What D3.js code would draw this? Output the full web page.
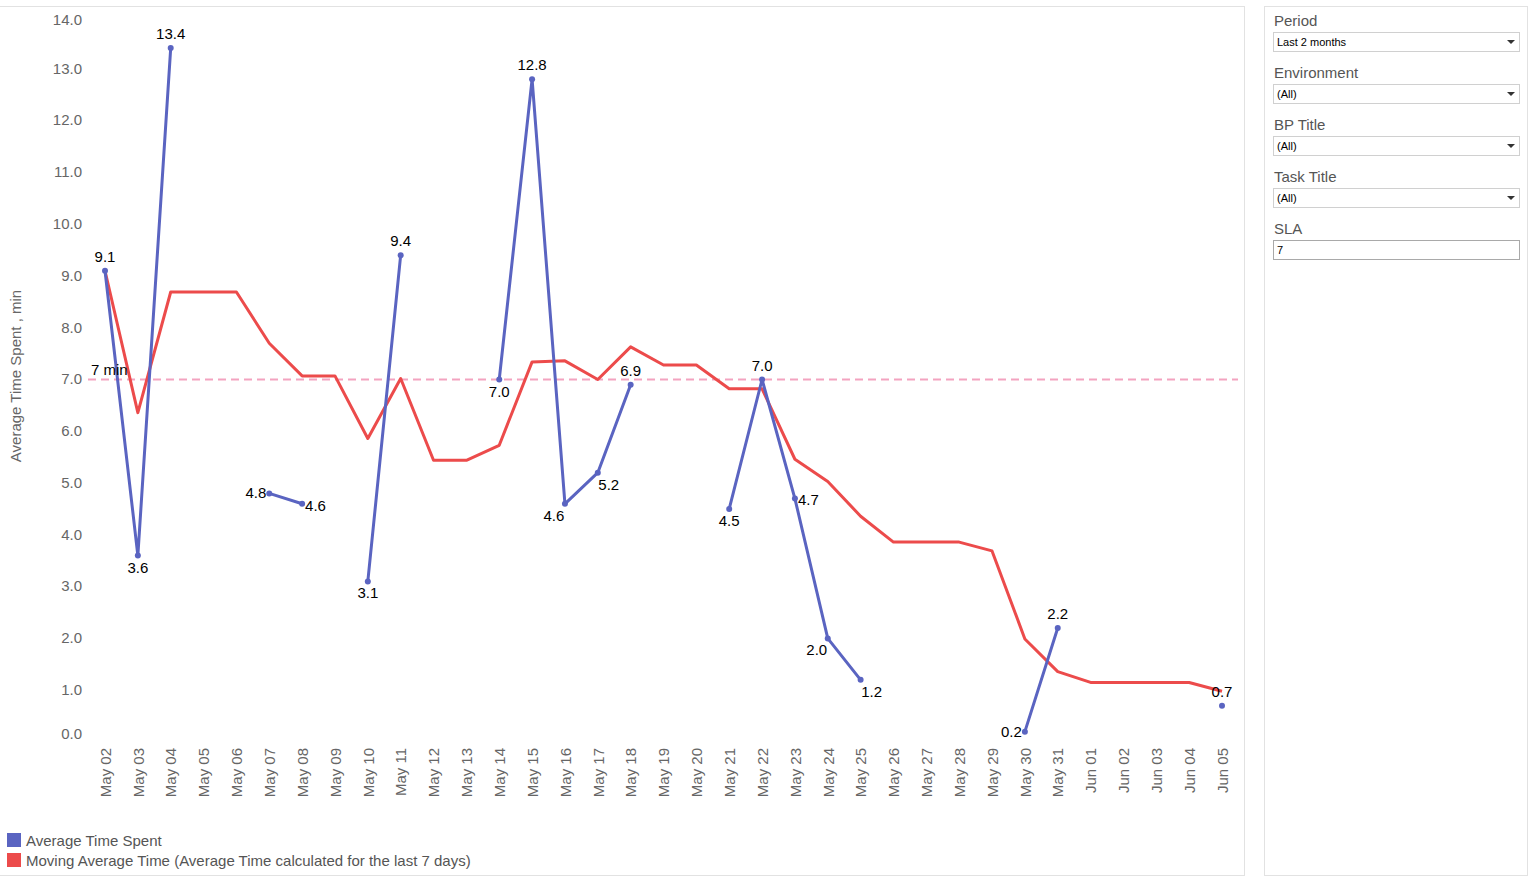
<!DOCTYPE html>
<html>
<head>
<meta charset="utf-8">
<script src="https://cdn.jsdelivr.net/npm/d3@7/dist/d3.min.js"></script>
<style>
  body { margin: 0; background: #fff; font-family: "Liberation Sans", Arial, sans-serif; }
  svg { display: block; }
</style>
</head>
<body>
<svg id="chart" width="1539" height="881"></svg>
<script>
// categories (one per day)
const days = ["May 02","May 03","May 04","May 05","May 06","May 07","May 08","May 09","May 10","May 11",
  "May 12","May 13","May 14","May 15","May 16","May 17","May 18","May 19","May 20","May 21","May 22",
  "May 23","May 24","May 25","May 26","May 27","May 28","May 29","May 30","May 31",
  "Jun 01","Jun 02","Jun 03","Jun 04","Jun 05"];

// Average Time Spent (null = no data that day)
const avgTime = [9.1, 3.6, 13.4, null, null, 4.8, 4.6, null, 3.1, 9.4,
  null, null, 7.0, 12.8, 4.6, 5.2, 6.9, null, null, 4.5, 7.0,
  4.7, 2.0, 1.2, null, null, null, null, 0.2, 2.2,
  null, null, null, null, 0.7];

// Moving Average Time (last 7 days)
const movingAvg = [9.1, 6.36, 8.69, 8.69, 8.69, 7.7, 7.07, 7.07, 5.86, 7.02,
  5.44, 5.44, 5.73, 7.34, 7.36, 7.0, 7.63, 7.28, 7.28, 6.82, 6.82,
  5.46, 5.03, 4.36, 3.86, 3.86, 3.86, 3.69, 1.99, 1.36,
  1.15, 1.15, 1.15, 1.15, 0.98];

const yTicks = d3.range(0, 15, 1);
const slaValue = 7;

const legendItems = ["Average Time Spent", "Moving Average Time (Average Time calculated for the last 7 days)"];
const filters = [
  { label: "Period", value: "Last 2 months", type: "select" },
  { label: "Environment", value: "(All)", type: "select" },
  { label: "BP Title", value: "(All)", type: "select" },
  { label: "Task Title", value: "(All)", type: "select" },
  { label: "SLA", value: "7", type: "input" }
];

const blue = "#5a64c1";
const red = "#ec4b4b";
const grayText = "#666";

const svg = d3.select("#chart");

// panel frames
svg.append("rect").attr("x", -1).attr("y", 6.5).attr("width", 1245.5).attr("height", 869)
  .attr("fill", "none").attr("stroke", "#e2e2e2");
svg.append("rect").attr("x", 1264.5).attr("y", 6.5).attr("width", 263).attr("height", 869)
  .attr("fill", "#fff").attr("stroke", "#e2e2e2");

// scales
const x = d3.scalePoint().domain(days).range([105, 1222]);
const y = d3.scaleLinear().domain([0, 14]).range([742, 17]);

// y axis
const yAxis = svg.append("g")
  .attr("transform", "translate(82,0)")
  .call(d3.axisLeft(y).tickValues(yTicks).tickFormat(d3.format(".1f")).tickSize(0).tickPadding(0));
yAxis.select(".domain").remove();
yAxis.selectAll(".tick").attr("transform", d => "translate(0," + Math.min(Math.max(y(d), 20), 734) + ")");
yAxis.selectAll("text").attr("fill", grayText).style("font-size", "15px")
  .style("font-family", "'Liberation Sans', Arial, sans-serif");

svg.append("text")
  .attr("transform", "translate(21,376) rotate(-90)")
  .attr("text-anchor", "middle")
  .attr("fill", grayText)
  .style("font-size", "15px")
  .text("Average Time Spent , min");

// x axis
const xAxis = svg.append("g")
  .attr("transform", "translate(0,744)")
  .call(d3.axisBottom(x).tickSize(0).tickPadding(0));
xAxis.select(".domain").remove();
xAxis.selectAll("text")
  .attr("fill", grayText)
  .style("font-size", "15px")
  .style("font-family", "'Liberation Sans', Arial, sans-serif")
  .attr("text-anchor", "end")
  .attr("transform", "rotate(-90)")
  .attr("x", -4)
  .attr("y", 0)
  .attr("dy", "0.35em");

// SLA reference line
svg.append("line")
  .attr("x1", 88).attr("x2", 1238)
  .attr("y1", y(slaValue)).attr("y2", y(slaValue))
  .attr("stroke", "#f3a3c0").attr("stroke-width", 2)
  .attr("stroke-dasharray", "8,5");

// moving average line
const maData = days.map((d, i) => ({ day: d, v: movingAvg[i] }));
svg.append("path")
  .datum(maData)
  .attr("fill", "none").attr("stroke", red).attr("stroke-width", 3)
  .attr("stroke-linejoin", "round")
  .attr("d", d3.line().x(d => x(d.day)).y(d => y(d.v)));

// average time line (breaks on missing days)
const avgData = days.map((d, i) => ({ day: d, v: avgTime[i], i }));
svg.append("path")
  .datum(avgData)
  .attr("fill", "none").attr("stroke", blue).attr("stroke-width", 3)
  .attr("stroke-linejoin", "round")
  .attr("d", d3.line().defined(d => d.v !== null).x(d => x(d.day)).y(d => y(d.v)));

const pts = avgData.filter(d => d.v !== null);
svg.selectAll("circle.pt")
  .data(pts)
  .enter().append("circle")
  .attr("class", "pt")
  .attr("cx", d => x(d.day)).attr("cy", d => y(d.v))
  .attr("r", 3).attr("fill", blue);

svg.append("text")
  .attr("x", 91).attr("y", y(slaValue) - 5)
  .attr("fill", "#000").style("font-size", "15px")
  .text(slaValue + " min");

// label placement from neighbouring points, returns [dx, dy, anchor]
function place(d) {
  const prev = d.i > 0 ? avgTime[d.i - 1] : null;
  const next = d.i < avgTime.length - 1 ? avgTime[d.i + 1] : null;
  const nb = [prev, next].filter(v => v !== null);
  const above = [0, -9, "middle"], below = [0, 17, "middle"];
  if (nb.length === 0) return above;
  if (nb.length === 1 && d.i > 0 && d.i < avgTime.length - 1 && Math.abs(nb[0] - d.v) < 0.5) {
    return prev === null ? [-3, 5, "end"] : [3, 7, "start"];
  }
  if (nb.every(v => v < d.v)) return above;
  if (nb.every(v => v > d.v)) {
    if (d.v < 0.5) return [-3, 5, "end"];
    if (next === null && prev !== null) return [11, 17, "middle"];
    if (next !== null && prev !== null && Math.abs(next - d.v) < 1) return [-11, 17, "middle"];
    return below;
  }
  if (next > d.v) return [11, 17, "middle"];
  if (Math.abs(next - d.v) < 1) return [-11, 17, "middle"];
  return [3, 6, "start"];
}

svg.selectAll("text.lbl")
  .data(pts)
  .enter().append("text")
  .attr("class", "lbl")
  .style("font-size", "15px")
  .attr("fill", "#000")
  .each(function(d) {
    const p = place(d);
    d3.select(this)
      .attr("x", x(d.day) + p[0])
      .attr("y", y(d.v) + p[1])
      .attr("text-anchor", p[2])
      .text(d3.format(".1f")(d.v));
  });

// legend
const legend = svg.append("g").attr("transform", "translate(7,833)");
legendItems.forEach((name, i) => {
  const g = legend.append("g").attr("transform", "translate(0," + i * 20 + ")");
  g.append("rect").attr("width", 14).attr("height", 14).attr("fill", i === 0 ? blue : red);
  g.append("text").attr("x", 19).attr("y", 12.5)
    .attr("fill", "#555").style("font-size", "15px").text(name);
});

// filter panel
const panel = svg.append("g").attr("transform", "translate(1273,0)");
filters.forEach((f, i) => {
  const g = panel.append("g").attr("transform", "translate(0," + (i * 52) + ")");
  g.append("text").attr("x", 1).attr("y", 26)
    .attr("fill", "#555").style("font-size", "15px").text(f.label);
  g.append("rect").attr("x", 0.5).attr("y", 32.5).attr("width", 246).attr("height", 19)
    .attr("fill", "#fff").attr("stroke", f.type === "input" ? "#a9a9a9" : "#d0d0d0");
  g.append("text").attr("x", 4).attr("y", 46)
    .attr("fill", "#000").style("font-size", "11px").text(f.value);
  if (f.type === "select") {
    g.append("path")
      .attr("d", "M234,40 L242,40 L238,44 Z")
      .attr("fill", "#333");
  }
});
</script>
</body>
</html>
